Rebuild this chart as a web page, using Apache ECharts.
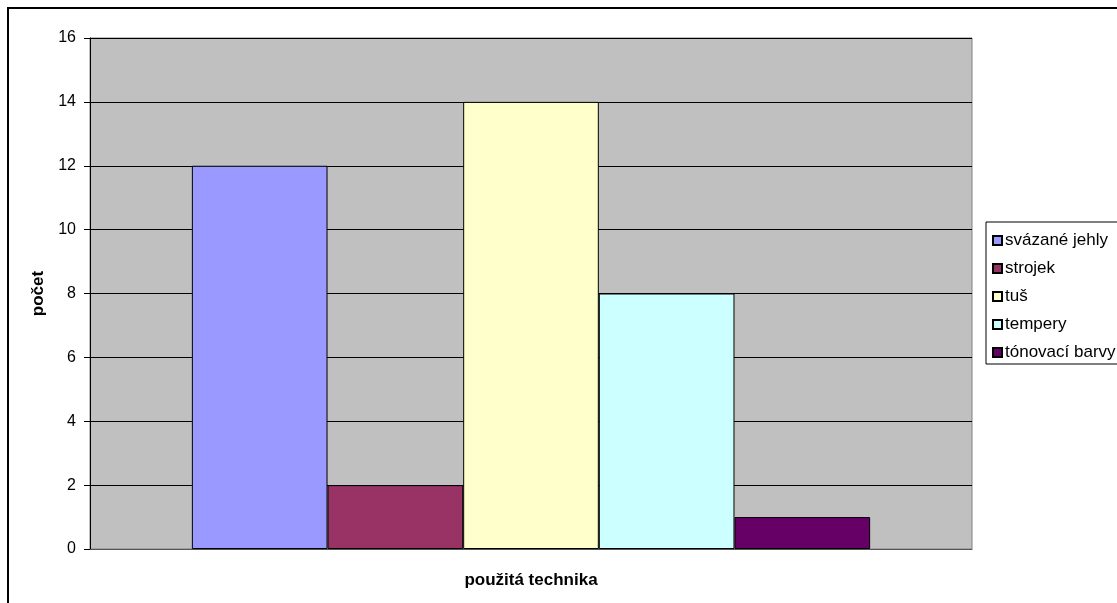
<!DOCTYPE html>
<html>
<head>
<meta charset="utf-8">
<script src="https://cdn.jsdelivr.net/npm/echarts@6/dist/echarts.min.js"></script>
<style>
html,body{margin:0;padding:0;background:#fff;}
#c{width:1117px;height:603px;}
</style>
</head>
<body>
<div id="c"></div>
<script>
const categories = [''];
const seriesNames = ['svázané jehly', 'strojek', 'tuš', 'tempery', 'tónovací barvy'];
const seriesValues = [12, 2, 14, 8, 1];
const seriesColors = ['#9999FF', '#993366', '#FFFFCC', '#CCFFFF', '#660066'];
const yTicks = { min: 0, max: 16, interval: 2 };
const xTitle = 'použitá technika';
const yTitle = 'počet';

const FONT = '"Liberation Sans", Arial, sans-serif';
const chart = echarts.init(document.getElementById('c'));
chart.setOption({
  animation: false,
  backgroundColor: '#fff',
  textStyle: { fontFamily: FONT },
  graphic: [{
    type: 'rect', z: 100, silent: true,
    shape: { x: 8, y: 8, width: 1300, height: 800 },
    style: { fill: 'none', stroke: '#000', lineWidth: 2 }
  }],
  grid: {
    left: 90, top: 38, right: 145, bottom: 54,
    show: true, backgroundColor: '#C0C0C0', borderColor: '#808080', borderWidth: 1
  },
  legend: {
    orient: 'vertical', left: 986, top: 222,
    backgroundColor: '#fff', borderColor: '#000', borderWidth: 1,
    padding: [10, 60, 3, 6],
    itemWidth: 9, itemHeight: 9, itemGap: 11,
    icon: 'rect',
    textStyle: { fontFamily: FONT, fontSize: 17, color: '#000', padding: [0, 0, 0, -2] },
    data: seriesNames
  },
  xAxis: {
    type: 'category', data: categories,
    name: xTitle, nameLocation: 'middle', nameGap: 23,
    nameTextStyle: { fontFamily: FONT, fontSize: 17, fontWeight: 'bold', color: '#000' },
    axisLine: { lineStyle: { color: '#555', width: 1 } },
    axisTick: { show: false }, axisLabel: { show: false }
  },
  yAxis: {
    type: 'value', min: yTicks.min, max: yTicks.max, interval: yTicks.interval,
    name: yTitle, nameLocation: 'middle', nameGap: 40, nameRotate: 90,
    nameTextStyle: { fontFamily: FONT, fontSize: 17, fontWeight: 'bold', color: '#000' },
    axisLine: { show: true, lineStyle: { color: '#000', width: 1 } },
    axisTick: { show: true, length: 6, lineStyle: { color: '#000' } },
    axisLabel: { margin: 14, fontFamily: FONT, fontSize: 16, color: '#000' },
    splitLine: { show: true, lineStyle: { color: '#000', width: 1 } }
  },
  series: seriesNames.map((n, i) => ({
    type: 'bar', name: n, data: [seriesValues[i]],
    barGap: '0%', barCategoryGap: '23.1%',
    itemStyle: { color: seriesColors[i], borderColor: '#000', borderWidth: 1 }
  }))
});
</script>
</body>
</html>
